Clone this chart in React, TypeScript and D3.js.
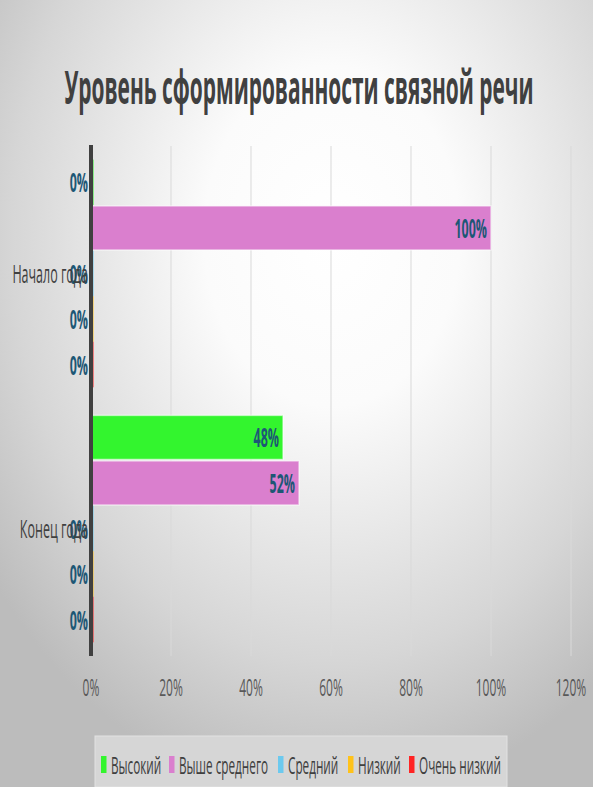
import React from "react";
import * as d3 from "d3";

const categories = ["Начало года", "Конец года"];
const seriesNames = ["Высокий", "Выше среднего", "Средний", "Низкий", "Очень низкий"];
const seriesColors = ["#33F52E", "#DA7FCE", "#6CC9EE", "#FFC21A", "#FF2424"];
const valuesStart = [0, 1, 0, 0, 0];
const valuesEnd = [0.48, 0.52, 0, 0, 0];
const xTicks = [0, 0.2, 0.4, 0.6, 0.8, 1.0, 1.2];
const titleText = "Уровень сформированности связной речи";

const W = 593;
const H = 787;
const FONT = "'Open Sans', 'DejaVu Sans', sans-serif";

function SText({ x, y, sx, size, anchor = "start", weight = "normal", fill, children }: any) {
  return (
    <g transform={`translate(${x},${y}) scale(${sx},1)`}>
      <text
        x={0}
        y={0}
        fontFamily={FONT}
        fontSize={size}
        fontWeight={weight}
        textAnchor={anchor}
        fill={fill}
      >
        {children}
      </text>
    </g>
  );
}

export default function App() {
  const x = d3.scaleLinear().domain([0, 1.2]).range([91, 571]);
  const y0 = d3.scaleBand<string>().domain(categories).range([146, 656]).paddingInner(0).paddingOuter(0);
  const y1 = d3
    .scaleBand<string>()
    .domain(seriesNames)
    .range([0, y0.bandwidth()])
    .paddingInner(0)
    .paddingOuter(0.3);
  const fmt = d3.format(".0%");
  const data = [valuesStart, valuesEnd];
  const labelColor = "#1D5775";

  const legendItems = seriesNames.map((n, i) => ({ n, c: seriesColors[i] }));
  const legendX = [101, 169, 278, 348, 409];

  return (
    <svg width={W} height={H} style={{ position: "absolute", left: 0, top: 0 }}>
      <defs>
        <radialGradient id="bg" cx="56%" cy="30%" r="72%" fx="56%" fy="30%">
          <stop offset="0" stopColor="#ffffff" />
          <stop offset="0.3" stopColor="#fbfbfb" />
          <stop offset="0.75" stopColor="#d6d6d6" />
          <stop offset="1" stopColor="#bcbcbc" />
        </radialGradient>
      </defs>
      <rect x={0} y={0} width={W} height={H} fill="url(#bg)" />

      {/* title */}
      <SText x={299} y={104} sx={0.445} size={47} anchor="middle" weight="bold" fill="#404040">
        {titleText}
      </SText>

      {/* gridlines */}
      {xTicks.slice(1).map((t) => (
        <line key={t} x1={x(t)} x2={x(t)} y1={146} y2={656} stroke="#d9d9d9" strokeWidth={1} />
      ))}

      {/* bars */}
      {categories.map((cat, ci) => (
        <g key={cat} transform={`translate(0,${y0(cat)})`}>
          {seriesNames.map((s, si) => {
            const v = data[ci][si];
            const yy = y1(s)!;
            const h = y1.bandwidth();
            if (v === 0) {
              return (
                <g key={s}>
                  <line x1={x(0) + 2} x2={x(0) + 2} y1={yy} y2={yy + h} stroke={seriesColors[si]} strokeWidth={1} />
                  <SText x={x(0) - 3} y={yy + h / 2 + 10} sx={0.46} size={27} anchor="end" weight="bold" fill={labelColor}>
                    {fmt(v)}
                  </SText>
                </g>
              );
            }
            return (
              <g key={s}>
                <rect
                  x={x(0) + 1}
                  y={yy + 0.75}
                  width={x(v) - x(0) - 1}
                  height={h - 1.5}
                  fill={seriesColors[si]}
                  stroke="#ffffff"
                  strokeOpacity={0.55}
                  strokeWidth={1.5}
                />
                <SText x={x(v) - 4} y={yy + h / 2 + 10} sx={0.46} size={27} anchor="end" weight="bold" fill={labelColor}>
                  {fmt(v)}
                </SText>
              </g>
            );
          })}
        </g>
      ))}

      {/* axis line */}
      <line x1={x(0)} x2={x(0)} y1={145} y2={656} stroke="#404040" strokeWidth={4} />

      {/* category labels */}
      {categories.map((cat) => (
        <SText key={cat} x={88} y={y0(cat)! + y0.bandwidth() / 2 + 9} sx={0.5} size={25} anchor="end" fill="#404040">
          {cat}
        </SText>
      ))}

      {/* x tick labels */}
      {xTicks.map((t) => (
        <SText key={t} x={x(t)} y={696} sx={0.5} size={24} anchor="middle" fill="#595959">
          {fmt(t)}
        </SText>
      ))}

      {/* legend */}
      <rect x={95} y={736} width={412} height={51} fill="#d6d6d6" stroke="#e2e2e2" strokeWidth={1} />
      {legendItems.map((it, i) => (
        <g key={it.n}>
          <rect x={legendX[i]} y={756} width={5.5} height={17} fill={it.c} />
          <SText x={legendX[i] + 10} y={774} sx={0.49} size={24} anchor="start" fill="#404040">
            {it.n}
          </SText>
        </g>
      ))}
    </svg>
  );
}
